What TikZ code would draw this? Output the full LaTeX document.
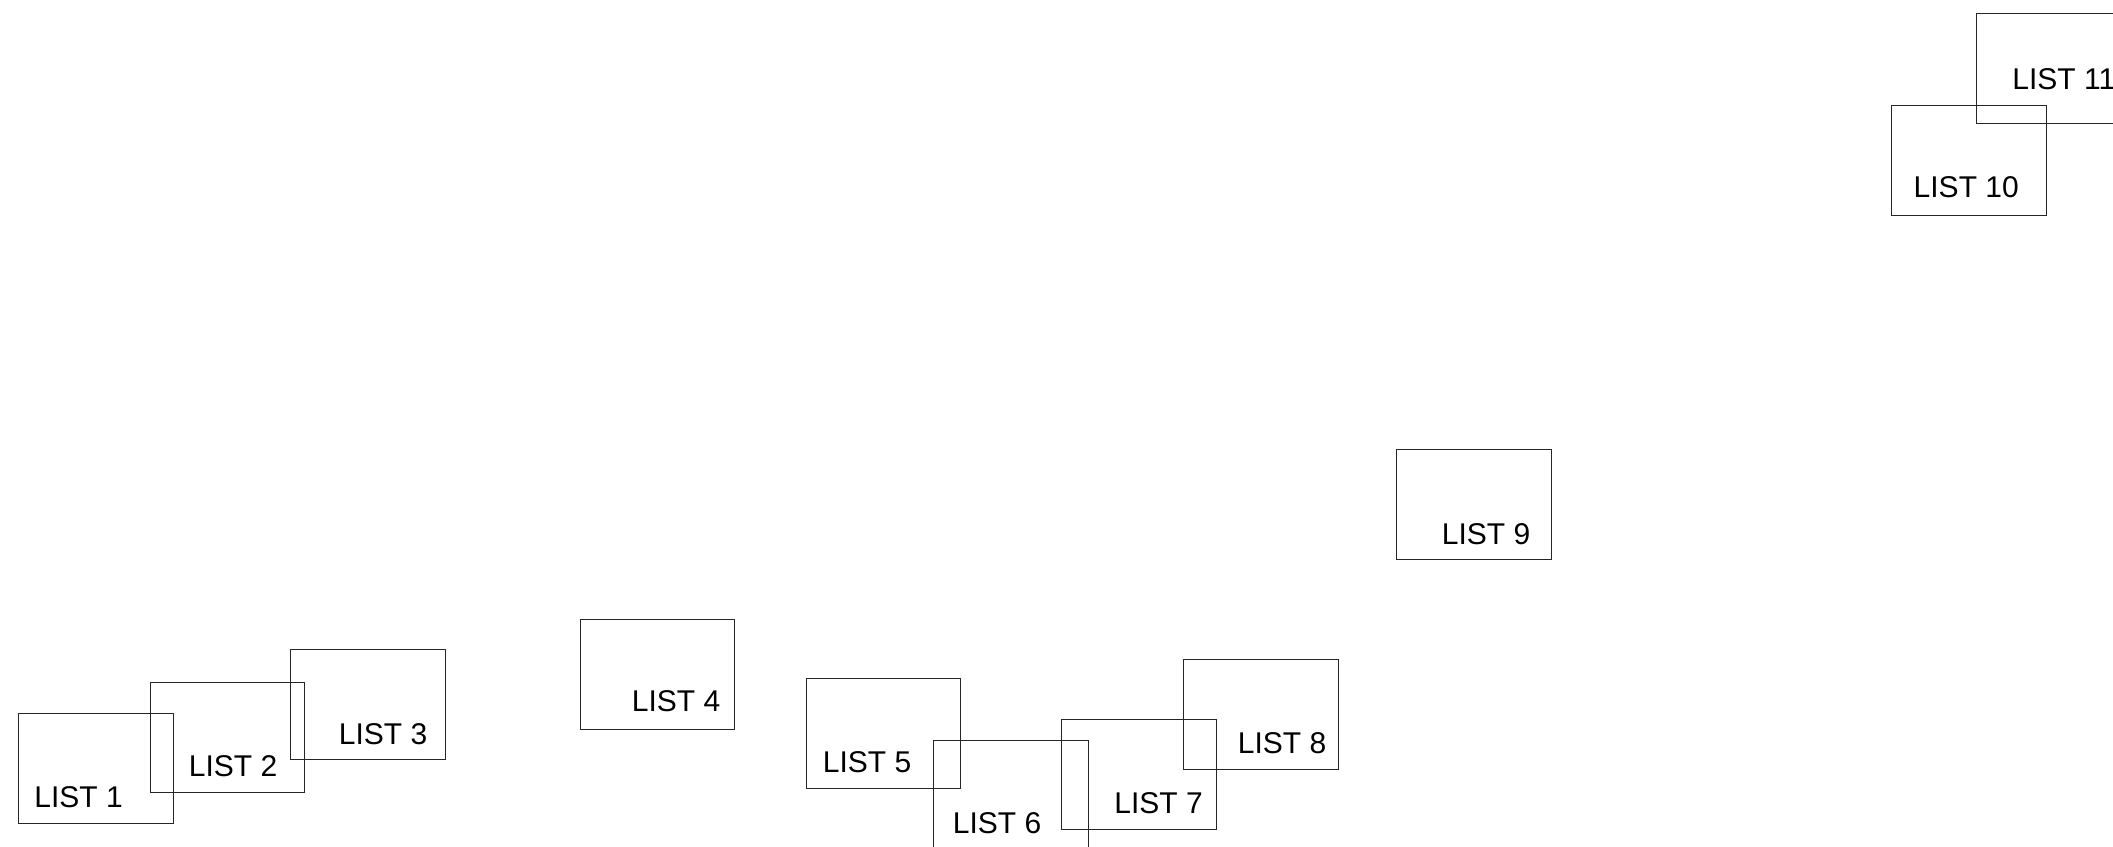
\documentclass[tikz,border=0pt]{standalone}
\usepackage{fontspec}
\setmainfont{Liberation Sans}
\begin{document}
\begin{tikzpicture}[x=0.5pt, y=-0.5pt,
  listbox/.style={draw=black!85, line width=0.5pt, minimum width=77.25pt, minimum height=55pt, inner sep=0pt, anchor=north west},
  listlabel/.style={inner sep=0pt, anchor=base west, font=\fontsize{15}{18}\selectfont}]
  \useasboundingbox (0,0) rectangle (2113,846);
  \clip (0,0) rectangle (2113,846);
  \foreach \n/\bx/\by/\tx/\ty in {1/18/712.5/34/807, 2/149.5/681.5/188.5/776.7, 3/290/649/338.5/744,
      4/579.5/618.5/631.5/711, 5/805.5/678.3/822.5/772.7, 6/933.3/739.5/952.5/833,
      7/1061.3/719/1114/813.3, 8/1183.3/659.3/1237.5/753, 9/1396/449/1441.5/544.3,
      10/1891/105/1913.3/197.3, 11/1975.5/12.7/2012/89.3} {
    \node[listbox] (box\n) at (\bx,\by) {};
    \node[listlabel] (lbl\n) at (\tx,\ty) {LIST \n};
  }
\end{tikzpicture}
\end{document}
